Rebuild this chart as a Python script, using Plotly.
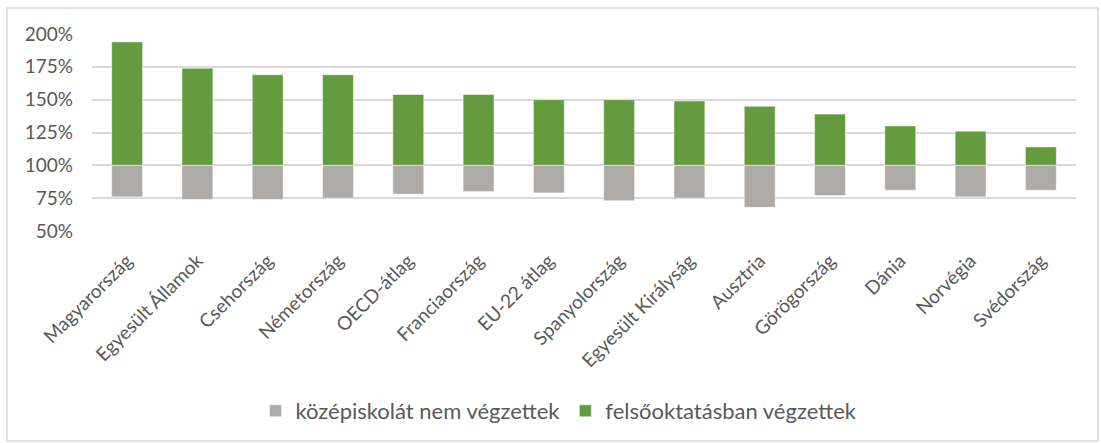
import plotly.graph_objects as go

# data (percent, 100% = baseline)
countries = ["Magyarország", "Egyesült Államok", "Csehország", "Németország",
             "OECD-átlag", "Franciaország", "EU-22 átlag", "Spanyolország",
             "Egyesült Királyság", "Ausztria", "Görögország", "Dánia",
             "Norvégia", "Svédország"]
felsofok = [194, 174, 169, 169, 154, 154, 150, 150, 149, 145, 139, 130, 126, 114]
kozepiskola_nelkul = [76, 74, 74, 75, 78, 80, 79, 73, 75, 68, 77, 81, 76, 81]
y_ticks = [50, 75, 100, 125, 150, 175, 200]
y_tick_labels = ["50%", "75%", "100%", "125%", "150%", "175%", "200%"]
baseline = 100

GREEN = "#659B3F"
GREY = "#AEAAA8"
TEXT = "#595959"
FONT = "Lato"

W, H = 1101, 443
M_L, M_R, M_T, M_B = 92, 25, 34, 212
plot_w = W - M_L - M_R
plot_h = H - M_T - M_B

fig = go.Figure()

fig.add_trace(go.Bar(
    x=countries,
    y=[v - baseline for v in kozepiskola_nelkul],
    base=baseline,
    name="középiskolát nem végzettek",
    marker=dict(color=GREY, line=dict(color="rgba(255,255,255,0.5)", width=1)),
    hovertemplate="%{x}: %{customdata}%<extra></extra>",
    customdata=kozepiskola_nelkul,
))

fig.add_trace(go.Bar(
    x=countries,
    y=[v - baseline for v in felsofok],
    base=baseline,
    name="felsőoktatásban végzettek",
    marker=dict(color=GREEN, line=dict(color="rgba(255,255,255,0.5)", width=1)),
    hovertemplate="%{x}: %{customdata}%<extra></extra>",
    customdata=felsofok,
))


# pixel -> paper helpers
def px_x(p):
    return (p - M_L) / plot_w


def px_y(p):
    return (H - M_B - p) / plot_h


# outer chart frame
fig.add_shape(
    type="rect", xref="paper", yref="paper",
    x0=px_x(7), x1=px_x(1098), y0=px_y(441), y1=px_y(8),
    line=dict(color="#D9D9D9", width=1.5),
)

fig.update_layout(
    width=W,
    height=H,
    barmode="overlay",
    bargap=0.56,
    paper_bgcolor="white",
    plot_bgcolor="white",
    margin=dict(l=M_L, r=M_R, t=M_T, b=M_B, autoexpand=False),
    font=dict(family=FONT, size=19, color=TEXT),
    showlegend=True,
    legend=dict(
        orientation="h",
        x=px_x(559), xanchor="center",
        y=px_y(411), yanchor="middle",
        font=dict(family=FONT, size=22, color=TEXT),
        traceorder="normal",
        itemwidth=30,
    ),
    xaxis=dict(
        tickangle=-45,
        showgrid=False,
        showline=False,
        ticks="",
        ticklabelstandoff=14,
        tickfont=dict(family=FONT, size=19, color=TEXT),
        fixedrange=True,
    ),
    yaxis=dict(
        range=[50, 200],
        tickvals=y_ticks,
        ticktext=y_tick_labels,
        showgrid=True,
        gridcolor="#D9D9D9",
        gridwidth=1.5,
        zeroline=False,
        showline=False,
        ticks="",
        ticklabelstandoff=18,
        tickfont=dict(family=FONT, size=19, color=TEXT),
        fixedrange=True,
    ),
)

fig.write_html(
    "out.html",
    config={"displayModeBar": False},
    post_script="document.body.style.margin='0';",
)
